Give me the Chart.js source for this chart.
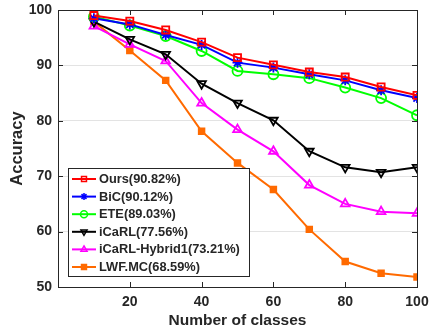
<!DOCTYPE html>
<html>
<head>
<meta charset="utf-8">
<script src="https://cdn.jsdelivr.net/npm/chart.js@4/dist/chart.umd.min.js"></script>
<style>
  html, body { margin: 0; padding: 0; background: #fff; }
  #wrap { width: 430px; height: 332px; }
</style>
</head>
<body>
<div id="wrap"><canvas id="myChart" width="430" height="332"></canvas></div>
<script>
// number of classes on x
const classes = [10, 20, 30, 40, 50, 60, 70, 80, 90, 100];

// accuracy per method
const ours   = [99.0, 98.0, 96.4, 94.2, 91.4, 90.1, 88.8, 87.9, 86.1, 84.6];
const bic    = [98.5, 97.4, 95.5, 93.7, 90.5, 89.6, 88.4, 87.3, 85.5, 84.1];
const ete    = [98.8, 97.2, 95.3, 92.6, 89.0, 88.4, 87.7, 86.0, 84.1, 81.0];
const icarl  = [97.9, 94.7, 92.0, 86.7, 83.2, 80.1, 74.5, 71.6, 70.7, 71.6];
const hybrid = [97.1, 93.8, 90.8, 83.2, 78.4, 74.5, 68.4, 65.0, 63.6, 63.3];
const lwf    = [97.9, 92.7, 87.3, 78.1, 72.4, 67.6, 60.4, 54.6, 52.5, 51.8];

const names = ['Ours(90.82%)', 'BiC(90.12%)', 'ETE(89.03%)', 'iCaRL(77.56%)', 'iCaRL-Hybrid1(73.21%)', 'LWF.MC(68.59%)'];
const yTicks = [50, 60, 70, 80, 90, 100];
const xTicks = [20, 40, 60, 80, 100];

const AX = '#262626';
const FONT = 'Liberation Sans, Arial, sans-serif';

function mk(label, vals, color, style, rot, filled) {
  return {
    label: label,
    data: vals.map((v, i) => ({ x: classes[i], y: v })),
    borderColor: color,
    backgroundColor: filled ? color : 'rgba(0,0,0,0)',
    borderWidth: 2,
    pointStyle: style,
    pointRotation: rot,
    pointRadius: 5,
    pointBorderWidth: 1.8,
    pointBackgroundColor: filled ? color : 'rgba(0,0,0,0)',
    pointBorderColor: color,
    tension: 0
  };
}

const datasets = [
  mk(names[0], ours, '#ff0000', 'rect', 0, false),
  mk(names[1], bic, '#0000ff', 'star', 0, false),
  mk(names[2], ete, '#00ff00', 'circle', 0, false),
  mk(names[3], icarl, '#000000', 'triangle', 180, false),
  mk(names[4], hybrid, '#ff00ff', 'triangle', 0, false),
  mk(names[5], lwf, '#ff6a00', 'rect', 0, true)
];
datasets[5].pointRadius = 4;

// frame, inward ticks, legend box
const framePlugin = {
  id: 'frame',
  afterDatasetsDraw(chart) {
    const ctx = chart.ctx;
    const a = chart.chartArea;
    const xs = chart.scales.x, ys = chart.scales.y;
    ctx.save();
    ctx.strokeStyle = AX;
    ctx.lineWidth = 1;
    ctx.strokeRect(Math.round(a.left) + 0.5, Math.round(a.top) + 0.5, Math.round(a.right - a.left), Math.round(a.bottom - a.top));
    const t = 5;
    xTicks.forEach(v => {
      const px = Math.round(xs.getPixelForValue(v)) + 0.5;
      ctx.beginPath();
      ctx.moveTo(px, a.bottom); ctx.lineTo(px, a.bottom - t);
      ctx.moveTo(px, a.top); ctx.lineTo(px, a.top + t);
      ctx.stroke();
    });
    yTicks.forEach(v => {
      const py = Math.round(ys.getPixelForValue(v)) + 0.5;
      ctx.beginPath();
      ctx.moveTo(a.left, py); ctx.lineTo(a.left + t, py);
      ctx.moveTo(a.right, py); ctx.lineTo(a.right - t, py);
      ctx.stroke();
    });

    // legend
    const bx = 68, by = 168, bw = 181, bh = 108;
    ctx.fillStyle = '#fff';
    ctx.fillRect(bx, by, bw, bh);
    ctx.strokeStyle = AX;
    ctx.strokeRect(bx + 0.5, by + 0.5, bw, bh);
    ctx.font = 'bold 12.8px ' + FONT;
    ctx.textBaseline = 'middle';
    chart.data.datasets.forEach((ds, i) => {
      const cy = by + 11 + i * 17.6;
      ctx.strokeStyle = ds.borderColor;
      ctx.lineWidth = 2;
      ctx.beginPath();
      ctx.moveTo(bx + 4, cy); ctx.lineTo(bx + 28, cy);
      ctx.stroke();
      ctx.fillStyle = ds.pointBackgroundColor;
      ctx.strokeStyle = ds.borderColor;
      ctx.lineWidth = 1.5;
      Chart.helpers.drawPoint(ctx, {
        pointStyle: ds.pointStyle,
        rotation: ds.pointRotation,
        radius: 3.5,
        borderWidth: 1.5
      }, bx + 16, cy);
      ctx.fillStyle = AX;
      ctx.fillText(ds.label, bx + 31, cy + 0.5);
    });
    ctx.restore();
  }
};

const ctx = document.getElementById('myChart');

new Chart(ctx, {
  type: 'line',
  data: { datasets: datasets },
  options: {
    responsive: false,
    animation: false,
    layout: { autoPadding: false, padding: { top: 10, right: 13, left: 0, bottom: 0 } },
    plugins: { legend: { display: false }, tooltip: { enabled: false } },
    scales: {
      x: {
        type: 'linear',
        min: 0, max: 100,
        afterBuildTicks: s => { s.ticks = xTicks.map(v => ({ value: v })); },
        afterFit: s => { s.height = 45; s.paddingLeft = 0; s.paddingRight = 0; },
        grid: { display: false, drawTicks: false },
        border: { display: false },
        ticks: { color: AX, padding: 7, font: { family: FONT, size: 14, weight: 'bold' } },
        title: {
          display: true, text: 'Number of classes', color: AX,
          padding: { top: 2, bottom: 2 },
          font: { family: FONT, size: 15.5, weight: 'bold' }
        }
      },
      y: {
        min: 50, max: 100,
        afterBuildTicks: s => { s.ticks = yTicks.map(v => ({ value: v })); },
        afterFit: s => { s.width = 58; s.paddingTop = 0; s.paddingBottom = 0; },
        grid: {
          drawTicks: false,
          color: c => (c.tick && (c.tick.value === 50 || c.tick.value === 100)) ? 'rgba(0,0,0,0)' : '#e3e3e3',
          lineWidth: 1
        },
        border: { display: false },
        ticks: { color: AX, padding: 6, font: { family: FONT, size: 14, weight: 'bold' } },
        title: {
          display: true, text: 'Accuracy', color: AX,
          padding: { top: 8, bottom: 4 },
          font: { family: FONT, size: 16.5, weight: 'bold' }
        }
      }
    }
  },
  plugins: [framePlugin]
});
</script>
</body>
</html>
